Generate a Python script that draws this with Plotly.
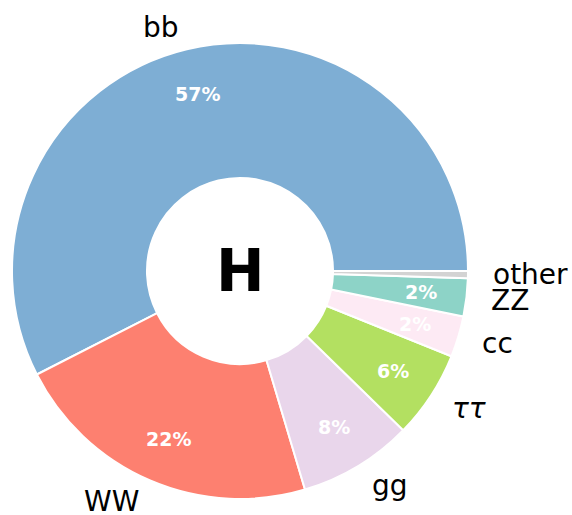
import math
import plotly.graph_objects as go

labels = ["bb", "WW", "gg", "<i>ττ</i>", "cc", "ZZ", "other"]
values = [57.5, 22.1, 8.1, 6.2, 2.9, 2.7, 0.5]
colors = ["#7eaed4", "#fd8070", "#e9d6eb", "#b3e061", "#fdeaf4", "#8dd3c7", "#d3d3d3"]

W, H = 572, 515
CX, CY, R = 240, 271, 228  # pixel centre and radius of the pie

total = sum(values)
# plotly puts the END of the first slice at `rotation` when counterclockwise,
# so shift it to make bb start at 3 o'clock like the original
rotation = 90 - values[0] / total * 360

fig = go.Figure(go.Pie(
    values=values, labels=labels, sort=False,
    direction="counterclockwise", rotation=rotation, hole=0.408,
    marker=dict(colors=colors, line=dict(color="white", width=2)),
    textinfo="none", hoverinfo="skip", showlegend=False,
    domain=dict(x=[(CX - R) / W, (CX + R) / W], y=[1 - (CY + R) / H, 1 - (CY - R) / H]),
))

def to_paper(angle_deg, dist):
    a = math.radians(angle_deg)
    return (CX + dist * R * math.cos(a)) / W, 1 - (CY - dist * R * math.sin(a)) / H

start = 0.0
for lab, v in zip(labels, values):
    frac = v / total
    mid = (start + frac / 2) * 360
    start += frac
    # outer label
    x, y = to_paper(mid, 1.1)
    fig.add_annotation(x=x, y=y, xref="paper", yref="paper", text=lab, showarrow=False,
                       xanchor="left" if math.cos(math.radians(mid)) > 0 else "right", yanchor="middle",
                       font=dict(family="DejaVu Sans", size=28, color="black"))
    # percentage (truncated like the original)
    pct = int(frac * 100)
    if pct >= 1:
        x, y = to_paper(mid, 0.8)
        fig.add_annotation(x=x, y=y, xref="paper", yref="paper", text=f"<b>{pct}%</b>", showarrow=False,
                           xanchor="center", yanchor="middle",
                           font=dict(family="DejaVu Sans", size=19, color="white"))

fig.add_annotation(x=CX / W, y=1 - CY / H, xref="paper", yref="paper", text="<b>H</b>", showarrow=False,
                   xanchor="center", yanchor="middle", font=dict(family="DejaVu Sans", size=58, color="black"))

fig.update_layout(width=W, height=H, margin=dict(l=0, r=0, t=0, b=0),
                  paper_bgcolor="white", plot_bgcolor="white")
# drop the default 8px page margin so the figure fills the window exactly
fig.write_html("out.html", config={"displayModeBar": False},
               post_script="document.body.style.margin='0';document.body.style.overflow='hidden';")
